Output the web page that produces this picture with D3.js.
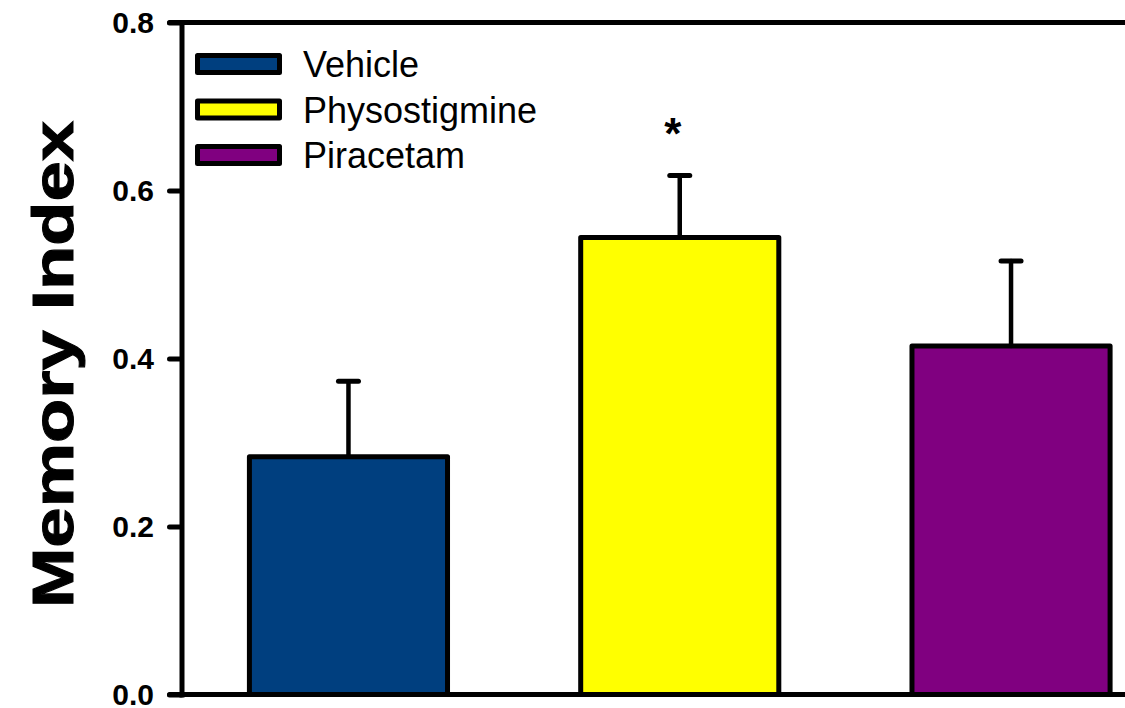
<!DOCTYPE html>
<html>
<head>
<meta charset="utf-8">
<script src="https://cdn.jsdelivr.net/npm/d3@7"></script>
<style>
  html, body { margin: 0; padding: 0; background: #fff; }
  svg { display: block; }
</style>
</head>
<body>
<svg id="chart" width="1125" height="708"></svg>
<script>
// Memory index by treatment group (mean and SEM)
const groups = ["Vehicle", "Physostigmine", "Piracetam"];
const means = [0.283, 0.544, 0.415];
const sems = [0.090, 0.074, 0.101];
const colors = ["#003F7F", "#FFFF00", "#800080"];
const significant = [false, true, false];
const yTicks = [0.0, 0.2, 0.4, 0.6, 0.8];
const yTitle = "Memory Index";

const svg = d3.select("#chart");
const W = 1125;
const axisX = 181.5;
const y0 = 694.5, y1 = 22.5;

const y = d3.scaleLinear().domain([0, 0.8]).range([y0, y1]);
const x = d3.scaleBand()
  .domain(groups)
  .range([axisX, 1178])
  .paddingInner(0.402)
  .paddingOuter(0.205);

const stroke = 5;

// Bars
svg.append("g").selectAll("rect")
  .data(groups)
  .join("rect")
  .attr("x", d => x(d))
  .attr("width", x.bandwidth())
  .attr("y", (d, i) => y(means[i]))
  .attr("height", (d, i) => y(0) - y(means[i]))
  .attr("fill", (d, i) => colors[i])
  .attr("stroke", "#000")
  .attr("stroke-width", stroke)
  .attr("stroke-linejoin", "round");

// Upper error bars
const err = svg.append("g")
  .attr("stroke", "#000")
  .attr("stroke-linecap", "round");
groups.forEach((g, i) => {
  const cx = x(g) + x.bandwidth() / 2;
  err.append("line")
    .attr("x1", cx).attr("x2", cx)
    .attr("y1", y(means[i])).attr("y2", y(means[i] + sems[i]))
    .attr("stroke-width", 4.5);
  err.append("line")
    .attr("x1", cx - 10).attr("x2", cx + 10)
    .attr("y1", y(means[i] + sems[i])).attr("y2", y(means[i] + sems[i]))
    .attr("stroke-width", 5);
});

// Significance marker
groups.forEach((g, i) => {
  if (!significant[i]) return;
  const cx = x(g) + x.bandwidth() / 2;
  svg.append("text")
    .attr("x", cx - 7)
    .attr("y", y(means[i] + sems[i]) - 26)
    .attr("text-anchor", "middle")
    .attr("font-family", "Liberation Sans, Arial, sans-serif")
    .attr("font-weight", "bold")
    .attr("font-size", 44)
    .text("*");
});

// Y axis
const yAxis = d3.axisLeft(y)
  .tickValues(yTicks)
  .tickFormat(d3.format(".1f"))
  .tickSize(12)
  .tickSizeOuter(0)
  .tickPadding(15.5);

const ax = svg.append("g")
  .attr("transform", `translate(${axisX},0)`)
  .call(yAxis);
ax.select(".domain")
  .attr("stroke", "#000")
  .attr("stroke-width", stroke)
  .attr("stroke-linecap", "square");
ax.selectAll(".tick line")
  .attr("stroke", "#000")
  .attr("stroke-width", stroke)
  .attr("stroke-linecap", "round");
ax.selectAll(".tick text")
  .attr("fill", "#000")
  .attr("font-family", "Liberation Sans, Arial, sans-serif")
  .attr("font-weight", "bold")
  .attr("font-size", 30)
  .attr("dy", "0.34em");

// Top and bottom frame lines
[y(0), y(0.8)].forEach(py => {
  svg.append("line")
    .attr("x1", axisX - 12).attr("x2", W + 5)
    .attr("y1", py).attr("y2", py)
    .attr("stroke", "#000")
    .attr("stroke-width", stroke)
    .attr("stroke-linecap", "round");
});

// Y axis title
svg.append("text")
  .attr("transform", `translate(73,${(y0 + y1) / 2 + 6}) rotate(-90)`)
  .attr("text-anchor", "middle")
  .attr("font-family", "Liberation Sans, Arial, sans-serif")
  .attr("font-weight", "bold")
  .attr("font-size", 58)
  .attr("stroke", "#000")
  .attr("stroke-width", 1)
  .attr("textLength", 487)
  .attr("lengthAdjust", "spacingAndGlyphs")
  .text(yTitle);

// Legend
const legend = svg.append("g").attr("transform", "translate(197.5,64)");
groups.forEach((g, i) => {
  const row = legend.append("g").attr("transform", `translate(0,${i * 45.5})`);
  row.append("rect")
    .attr("x", 0).attr("y", -8.5)
    .attr("width", 82).attr("height", 17)
    .attr("fill", colors[i])
    .attr("stroke", "#000")
    .attr("stroke-width", stroke)
    .attr("stroke-linejoin", "round");
  row.append("text")
    .attr("x", 105.5).attr("y", 13)
    .attr("font-family", "Liberation Sans, Arial, sans-serif")
    .attr("font-size", 36)
    .attr("fill", "#000")
    .text(g);
});
</script>
</body>
</html>
